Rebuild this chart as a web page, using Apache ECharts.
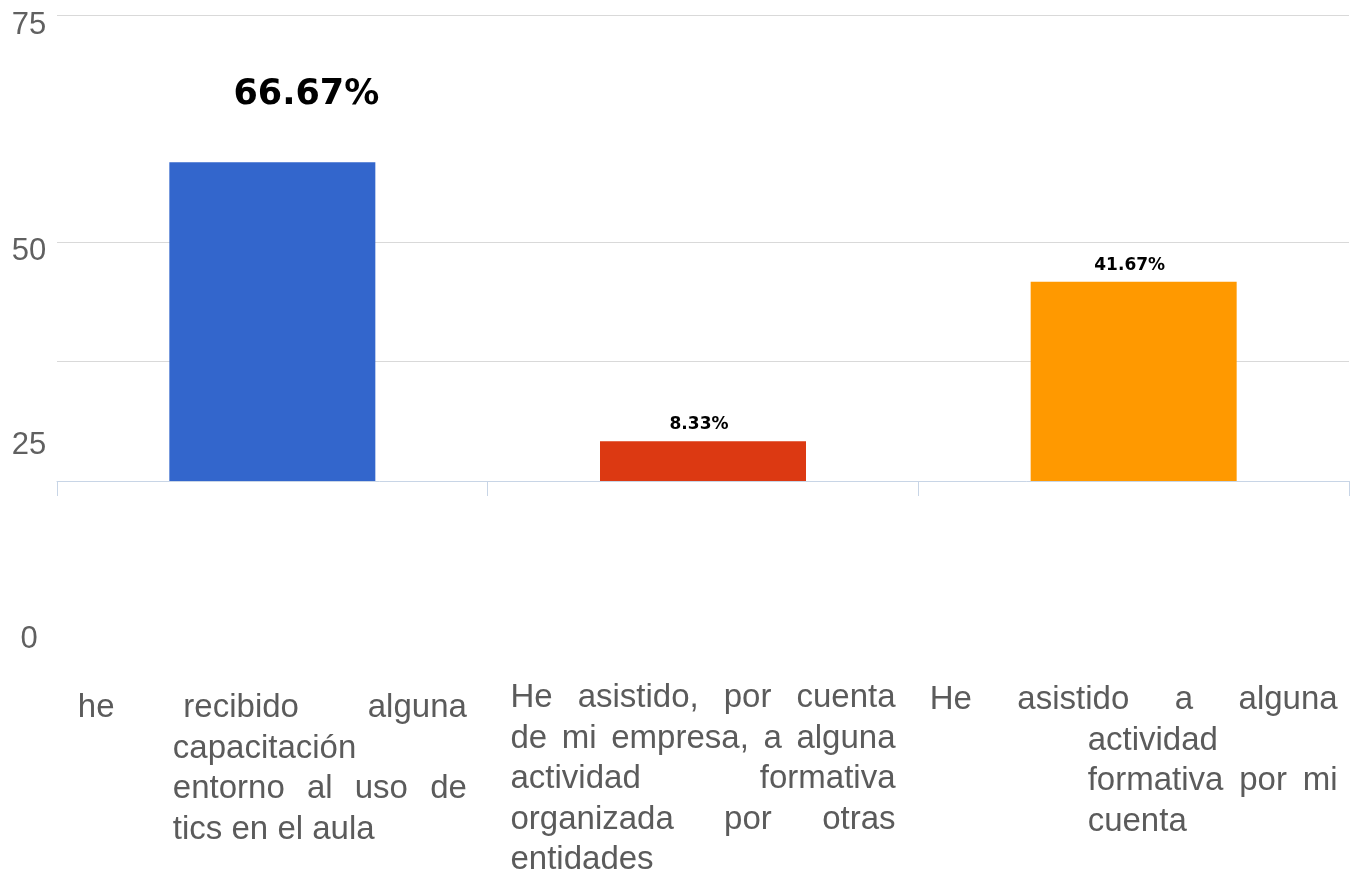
<!DOCTYPE html>
<html>
<head>
<meta charset="utf-8">
<title>Capacitación TIC</title>
<script src="https://cdn.jsdelivr.net/npm/echarts@6/dist/echarts.min.js"></script>
<style>
  html, body { margin: 0; padding: 0; background: #fff; }
  #chart { width: 1361px; height: 873px; }
</style>
</head>
<body>
<div id="chart"></div>
<script>
// ---- data ----
const CATEGORIES = [
  'he recibido alguna\ncapacitación\nentorno al uso de\ntics en el aula',
  'He asistido, por cuenta\nde mi empresa, a alguna\nactividad formativa\norganizada por otras\nentidades',
  'He asistido a alguna\nactividad\nformativa por mi\ncuenta'
];
const VALUES = [66.67, 8.33, 41.67];
const COLORS = ['#3366cc', '#dc3912', '#ff9900'];
const Y_TICK_LABELS = [0, 25, 50, 75];
const GRID_VALUES = [25, 50, 97.5];
const AXIS_MAX = 97.5;

// ---- layout / style ----
const LABEL_FONT_SIZE = 33;
const LABEL_FAMILY = '"Liberation Sans", Arial, sans-serif';
const LABEL_LINE_HEIGHT = 40.5;
const LABEL_COLOR = '#5b5b5b';
// paragraph box per category: total width, indent of continuation lines, extra top offset
const LABEL_BOX = [
  { width: 389, indent: 95, top: 10 },
  { width: 385, indent: 0, top: 0 },
  { width: 408, indent: 158, top: 2 }
];

const measureCtx = document.createElement('canvas').getContext('2d');
measureCtx.font = LABEL_FONT_SIZE + 'px ' + LABEL_FAMILY;
const textWidth = s => measureCtx.measureText(s).width;
const spaceW = textWidth(' ');

const rich = {};
function spacer(w) {
  w = Math.max(0, w);
  const key = 'sp' + Math.round(w * 100);
  if (!rich[key]) rich[key] = { width: w, lineHeight: LABEL_LINE_HEIGHT };
  return '{' + key + '| }';
}

// Justified paragraph built from rich-text tokens: every line spans the same width,
// so the centered label keeps the paragraph edges aligned.
function buildParagraph(text, box) {
  const lines = text.split('\n');
  return lines.map((line, i) => {
    const words = line.split(' ');
    const indent = i === 0 ? 0 : box.indent;
    const avail = box.width - indent;
    const wordsW = words.reduce((s, w) => s + textWidth(w), 0);
    const isLast = i === lines.length - 1;
    let out = indent > 0 ? spacer(indent) : '';
    if (!isLast && words.length > 1) {
      const gap = (avail - wordsW) / (words.length - 1);
      out += words.join(spacer(gap));
    } else {
      out += words.join(spacer(spaceW));
      const used = wordsW + spaceW * (words.length - 1);
      out += spacer(avail - used);
    }
    return out;
  }).join('\n');
}

const labelTexts = CATEGORIES.map((c, i) => buildParagraph(c, LABEL_BOX[i]));

const chart = echarts.init(document.getElementById('chart'), null, { renderer: 'canvas' });

const option = {
  animation: false,
  backgroundColor: '#ffffff',
  grid: [
    { left: 57, right: 12, top: 15, bottom: 392, outerBoundsMode: 'none', containLabel: false },
    { left: 60, width: 1, top: 639.5 - 3 * 194, bottom: 873 - 639.5, outerBoundsMode: 'none', containLabel: false }
  ],
  xAxis: [
    {
      type: 'category',
      gridIndex: 0,
      data: CATEGORIES.map((c, i) => ({
        value: c,
        textStyle: { padding: [LABEL_BOX[i].top, 0, 0, 0] }
      })),
      axisLine: { lineStyle: { color: '#c8d5e6', width: 1 } },
      axisTick: { show: true, length: 15, alignWithLabel: false, lineStyle: { color: '#c8d5e6', width: 1 } },
      axisLabel: {
        interval: 0,
        margin: 197,
        color: LABEL_COLOR,
        fontSize: LABEL_FONT_SIZE,
        fontFamily: LABEL_FAMILY,
        lineHeight: LABEL_LINE_HEIGHT,
        align: 'center',
        verticalAlign: 'top',
        formatter: (v, idx) => labelTexts[idx],
        rich: rich
      },
      splitLine: { show: false }
    },
    { type: 'value', gridIndex: 1, show: false }
  ],
  yAxis: [
    {
      type: 'value',
      gridIndex: 0,
      min: 0,
      max: AXIS_MAX,
      axisLine: { show: false },
      axisTick: { show: false, customValues: GRID_VALUES },
      axisLabel: { show: false },
      splitLine: { show: true, lineStyle: { color: '#d9d9d9', width: 1 } }
    },
    {
      type: 'value',
      gridIndex: 1,
      min: Y_TICK_LABELS[0],
      max: Y_TICK_LABELS[Y_TICK_LABELS.length - 1],
      interval: Y_TICK_LABELS[1] - Y_TICK_LABELS[0],
      axisLine: { show: false },
      axisTick: { show: false },
      splitLine: { show: false },
      axisLabel: {
        margin: 31,
        align: 'center',
        color: '#606060',
        fontSize: 31,
        fontFamily: LABEL_FAMILY,
        formatter: v => (v === Y_TICK_LABELS[Y_TICK_LABELS.length - 1] ? '{lift|' + v + '}' : String(v)),
        rich: { lift: { padding: [0, 0, 64, 0], fontSize: 31, color: '#606060' } }
      }
    }
  ],
  series: [
    {
      type: 'bar',
      xAxisIndex: 0,
      yAxisIndex: 0,
      barWidth: 206,
      data: VALUES.map((v, i) => ({
        value: v,
        itemStyle: { color: COLORS[i] },
        label: i === 0
          ? { fontSize: 35, offset: [34, -45] }
          : { fontSize: 17, offset: [-4, -3] }
      })),
      label: {
        show: true,
        position: 'top',
        distance: 5,
        formatter: '{c}%',
        color: '#000',
        fontFamily: '"DejaVu Sans", Verdana, sans-serif',
        fontWeight: 'bold'
      }
    }
  ]
};

chart.setOption(option);
</script>
</body>
</html>
